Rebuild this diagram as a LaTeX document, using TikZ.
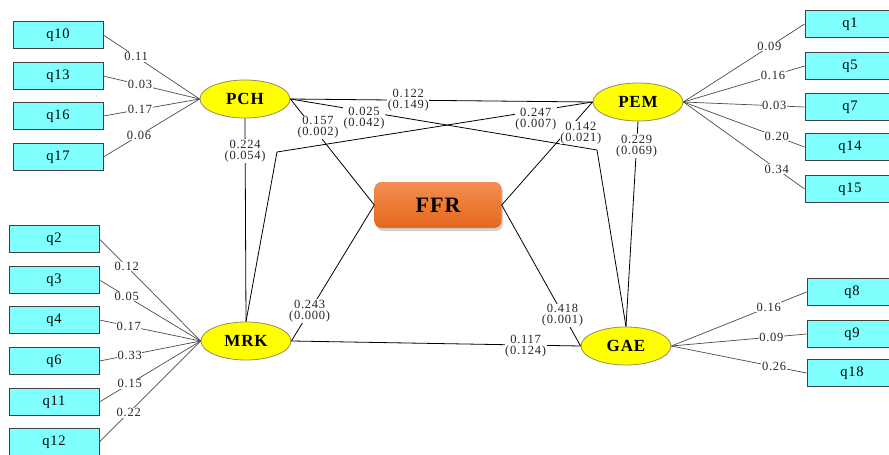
\documentclass[tikz,border=0pt]{standalone}
\usepackage{fontspec}
\setmainfont{Liberation Serif}
\newfontfamily\lblfont[LetterSpace=6]{Liberation Serif}
\newfontfamily\boxfont[LetterSpace=5]{Liberation Serif}
\usetikzlibrary{shadows,shapes.geometric}
\definecolor{qcyan}{RGB}{128,255,255}
\definecolor{lyel}{RGB}{255,255,0}
\definecolor{ffrtop}{RGB}{242,142,82}
\definecolor{ffrbot}{RGB}{228,104,28}
\tikzset{
  qbox/.style={draw=black!75, fill=qcyan, line width=0.9pt, minimum width=90pt, minimum height=27pt, inner sep=0pt, font=\boxfont\fontsize{14.5}{16}\selectfont},
  lat/.style={ellipse, draw=black!50!yellow!60!gray, fill=lyel, line width=0.8pt, minimum width=90pt, minimum height=38pt, inner sep=0pt, font=\boxfont\fontsize{17}{19}\selectfont\bfseries},
  ffrbox/.style={rounded corners=7pt, top color=ffrtop, bottom color=ffrbot, draw=none, minimum width=127pt, minimum height=46pt, inner sep=0pt, font=\boxfont\fontsize{22}{24}\selectfont\bfseries, drop shadow={opacity=0.35, shadow xshift=1.5pt, shadow yshift=-3pt}},
  lbl/.style={fill=white, inner sep=0.6pt, text=black!85, font=\lblfont\fontsize{12.5}{11}\selectfont, align=center},
  ld/.style={draw=black!70, line width=0.7pt},
  pth/.style={draw=black, line width=0.8pt}
}
\begin{document}
\begin{tikzpicture}[x=1pt,y=-1pt]
\clip (0,0) rectangle (889,455);
\fill[white] (0,0) rectangle (889,455);
% latent variables
\node[lat] (PCH) at (245,99) {PCH};
\node[lat] (PEM) at (638,102) {PEM};
\node[lat] (MRK) at (246,341) {MRK};
\node[lat] (GAE) at (626,346) {GAE};
\node[ffrbox] (FFR) at (438,205) {FFR};
% indicator boxes
\node[qbox] (q10) at (58,35) {q10};
\node[qbox] (q13) at (58,76) {q13};
\node[qbox] (q16) at (58,116) {q16};
\node[qbox] (q17) at (58,157) {q17};
\node[qbox] (q2) at (54,239) {q2};
\node[qbox] (q3) at (54,280) {q3};
\node[qbox] (q4) at (54,320) {q4};
\node[qbox] (q6) at (54,361) {q6};
\node[qbox] (q11) at (54,402) {q11};
\node[qbox] (q12) at (54,442) {q12};
\node[qbox] (q1) at (850,24) {q1};
\node[qbox] (q5) at (850,66) {q5};
\node[qbox] (q7) at (850,107) {q7};
\node[qbox] (q14) at (850,147) {q14};
\node[qbox] (q15) at (850,189) {q15};
\node[qbox] (q8) at (852,292) {q8};
\node[qbox] (q9) at (852,334) {q9};
\node[qbox] (q18) at (852,373) {q18};
% loadings
\draw[ld] (q10.east) -- node[lbl,pos=0.34]{0.11} (PCH.west);
\draw[ld] (q13.east) -- node[lbl,pos=0.38]{0.03} (PCH.west);
\draw[ld] (q16.east) -- node[lbl,pos=0.38]{0.17} (PCH.west);
\draw[ld] (q17.east) -- node[lbl,pos=0.37]{0.06} (PCH.west);
\draw[ld] (q2.east) -- node[lbl,pos=0.27]{0.12} (MRK.west);
\draw[ld] (q3.east) -- node[lbl,pos=0.27]{0.05} (MRK.west);
\draw[ld] (q4.east) -- node[lbl,pos=0.29]{0.17} (MRK.west);
\draw[ld] (q6.east) -- node[lbl,pos=0.3]{0.33} (MRK.west);
\draw[ld] (q11.east) -- node[lbl,pos=0.3]{0.15} (MRK.west);
\draw[ld] (q12.east) -- node[lbl,pos=0.29]{0.22} (MRK.west);
\draw[ld] (q1.west) -- node[lbl,pos=0.29]{0.09} (PEM.east);
\draw[ld] (q5.west) -- node[lbl,pos=0.26]{0.16} (PEM.east);
\draw[ld] (q7.west) -- node[lbl,pos=0.25]{0.03} (PEM.east);
\draw[ld] (q14.west) -- node[lbl,pos=0.23]{0.20} (PEM.east);
\draw[ld] (q15.west) -- node[lbl,pos=0.23]{0.34} (PEM.east);
\draw[ld] (q8.west) -- node[lbl,pos=0.28]{0.16} (GAE.east);
\draw[ld] (q9.west) -- node[lbl,pos=0.26]{0.09} (GAE.east);
\draw[ld] (q18.west) -- node[lbl,pos=0.24]{0.26} (GAE.east);
% structural paths
\coordinate (b1) at (597,150);
\coordinate (b2) at (277,152);
\draw[pth] (PCH.east) -- node[lbl,pos=0.39]{0.122\\(0.149)} (PEM.west);
\draw[pth] (PCH.east) -- node[lbl,pos=0.24,yshift=-7pt]{0.025\\(0.042)} (b1) -- (GAE.north);
\draw[pth] (MRK.north) -- (b2) -- node[lbl,pos=0.82,yshift=-8pt]{0.247\\(0.007)} (PEM.west);
\draw[pth] (PCH.south) -- node[lbl,pos=0.16]{0.224\\(0.054)} (MRK.north);
\draw[pth] (PEM.south) -- node[lbl,pos=0.12]{0.229\\(0.069)} (GAE.north);
\draw[pth] (FFR.west) -- node[lbl,pos=0.73,xshift=5pt]{0.157\\(0.002)} (PCH.east);
\draw[pth] (FFR.east) -- node[lbl,pos=0.75,xshift=11pt,yshift=-5pt]{0.142\\(0.021)} (PEM.west);
\draw[pth] (FFR.west) -- node[lbl,pos=0.78]{0.243\\(0.000)} (MRK.east);
\draw[pth] (FFR.east) -- node[lbl,pos=0.77,yshift=-2pt]{0.418\\(0.001)} (GAE.west);
\draw[pth] (MRK.east) -- node[lbl,pos=0.81,yshift=-1pt]{0.117\\(0.124)} (GAE.west);
\end{tikzpicture}
\end{document}
